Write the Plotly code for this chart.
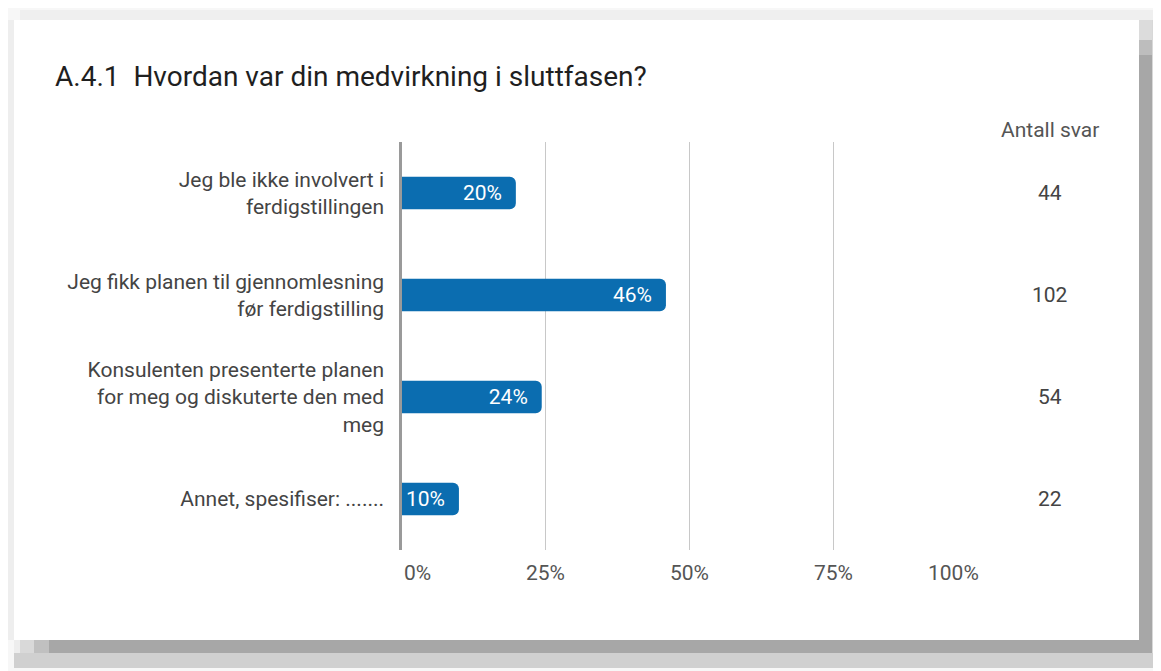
import plotly.graph_objects as go

# survey question A.4.1
title = "A.4.1\u00a0\u00a0Hvordan var din medvirkning i sluttfasen?"
categories = [
    "Jeg ble ikke involvert i<br>ferdigstillingen",
    "Jeg fikk planen til gjennomlesning<br>før ferdigstilling",
    "Konsulenten presenterte planen<br>for meg og diskuterte den med<br>meg",
    "Annet, spesifiser: .......",
]
shares = [19.8, 45.9, 24.3, 9.9]
share_labels = ["20%", "46%", "24%", "10%"]
counts = [44, 102, 54, 22]
tick_vals = [0, 25, 50, 75, 100]
tick_text = ["0%", "25%", "50%", "75%", "100%"]

# page body has an 8px margin -> shrink the figure and shift coordinates
OFF = 8
W, H = 1161 - OFF, 671 - OFF
FONT = "Roboto"
BLUE = "#0b6db0"


def px_x(v):
    return (v - OFF) / W


def px_y(v):
    return 1 - (v - OFF) / H


fig = go.Figure()
fig.add_trace(go.Bar(
    y=categories, x=shares, orientation="h",
    marker=dict(color=BLUE, cornerradius=6, line=dict(width=0)),
    text=[t + "\u00a0\u00a0" for t in share_labels],
    textposition="inside", insidetextanchor="end",
    textfont=dict(family=FONT, size=21, color="white"),
    hoverinfo="skip",
))

# card with drop shadow
shapes = []
def rect(x0, y0, x1, y1, color):
    shapes.append(dict(type="rect", xref="paper", yref="paper",
                       x0=px_x(x0), x1=px_x(x1), y0=px_y(y1), y1=px_y(y0),
                       fillcolor=color, line=dict(width=0), layer="below"))

rect(20, 10, 1161, 20, "#efefef")
rect(8, 20, 14, 640, "#eeeeee")
rect(1152, 20, 1161, 668, "#d8d8d8")
rect(1139, 20, 1152, 40, "#dcdcdc")
rect(1139, 40, 1152, 55, "#bdbdbd")
rect(1139, 55, 1152, 653, "#a7a7a7")
rect(14, 653, 1161, 668, "#d0d0d0")
rect(14, 640, 20, 653, "#ededed")
rect(20, 640, 34, 653, "#d9d9d9")
rect(34, 640, 49, 653, "#c0c0c0")
rect(49, 640, 1139, 653, "#a7a7a7")
rect(14, 20, 1139, 640, "#ffffff")

annotations = [dict(
    text=title, xref="paper", yref="paper", x=px_x(53), y=px_y(77),
    xanchor="left", yanchor="middle", showarrow=False,
    font=dict(family=FONT, size=28, color="#1f1f1f"),
)]
annotations.append(dict(
    text="Antall svar", xref="paper", yref="paper", x=px_x(1050), y=px_y(130),
    xanchor="center", yanchor="middle", showarrow=False,
    font=dict(family=FONT, size=21, color="#555555"),
))
for c, n in zip(categories, counts):
    annotations.append(dict(
        text=str(n), xref="paper", yref="y", x=px_x(1050), y=c,
        xanchor="center", yanchor="middle", showarrow=False,
        font=dict(family=FONT, size=21, color="#444444"),
    ))
anchors = ["left", "center", "center", "center", "right"]
for v, t, a in zip(tick_vals, tick_text, anchors):
    annotations.append(dict(
        text=t, xref="x", yref="paper", x=v, y=px_y(573),
        xanchor=a, yanchor="middle", showarrow=False,
        xshift=4 if a == "right" else 0,
        font=dict(family=FONT, size=21, color="#555555"),
    ))

fig.update_layout(
    width=W, height=H,
    margin=dict(l=0, r=0, t=0, b=0),
    paper_bgcolor="#f7f7f7", plot_bgcolor="rgba(0,0,0,0)",
    showlegend=False,
    bargap=0.68,
    font=dict(family=FONT, size=21, color="#444444"),
    shapes=shapes,
    annotations=annotations,
    xaxis=dict(
        domain=[px_x(402), px_x(977)], range=[0, 100],
        tickvals=tick_vals, showticklabels=False,
        showgrid=True, gridcolor="#c8c8c8", gridwidth=1,
        zeroline=False, showline=False, fixedrange=True,
    ),
    yaxis=dict(
        domain=[px_y(550), px_y(142)], autorange="reversed",
        showline=True, linecolor="#9a9a9a", linewidth=2.5,
        ticks="", ticklabelstandoff=11, showgrid=False,
        tickfont=dict(family=FONT, size=21, color="#444444"),
        fixedrange=True,
    ),
)

fig.write_html("out.html")
